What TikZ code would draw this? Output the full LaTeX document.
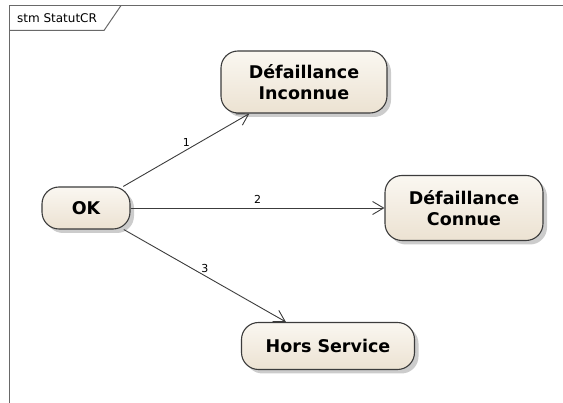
\documentclass[tikz,border=0pt]{standalone}
\usepackage{fontspec}
\setmainfont{DejaVu Sans}
\usetikzlibrary{arrows.meta}
\usetikzlibrary{shadows}
\definecolor{etathaut}{RGB}{250,247,241}
\definecolor{etatbas}{RGB}{236,226,210}
\definecolor{trait}{RGB}{60,60,60}
\definecolor{cadre}{RGB}{105,105,105}
\tikzset{etat/.style = {draw=trait, line width=1.1pt, rounded corners=17pt,
                        top color=etathaut, bottom color=etatbas,
                        drop shadow={shadow xshift=4pt, shadow yshift=-4pt,
                                     fill=black, opacity=0.2},
                        align=center, font=\fontsize{17.5}{20.5}\selectfont\bfseries}}
\tikzset{transition/.style = {draw=trait, line width=0.9pt,
                              -{Straight Barb[length=11pt, width=13pt]}}}
\tikzset{numero/.style = {font=\fontsize{11}{13}\selectfont, inner sep=1pt}}

\begin{document}
\begin{tikzpicture}[x=1pt, y=-1pt]
            \useasboundingbox (0,0) rectangle (563,403);
            % cadre du diagramme
            \draw[cadre, line width=1.6pt] (9.5,403) -- (9.5,5.5) -- (563,5.5);
            \draw[cadre, line width=1pt] (9.5,30.5) -- (104,30.5) -- (121,5.5);
            \node[font=\fontsize{12}{14}\selectfont] (titre) at (57,18) {stm StatutCR};
            % etats
            \node[etat, minimum width=166pt, minimum height=62pt] (inconnue) at (304,82) {Défaillance\\Inconnue};
            \node[etat, minimum width=88pt, minimum height=42pt] (ok) at (86,208) {OK};
            \node[etat, minimum width=158pt, minimum height=65pt] (connue) at (464,208) {Défaillance\\Connue};
            \node[etat, minimum width=173pt, minimum height=47pt] (hors) at (328,346) {Hors Service};
            % transitions
            \draw[transition] (ok) -- node[numero, above=2pt] {1} (inconnue);
            \draw[transition] (ok) -- node[numero, above=3pt] {2} (connue);
            \draw[transition] (ok) -- node[numero, above=2pt] {3} (hors);
        \end{tikzpicture}
\end{document}
